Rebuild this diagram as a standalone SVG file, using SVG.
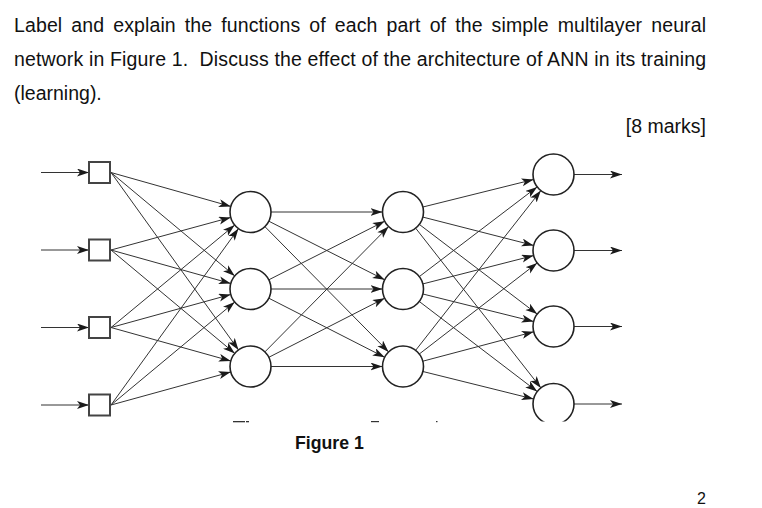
<svg xmlns="http://www.w3.org/2000/svg" width="762" height="508" viewBox="0 0 762 508">
<style>
.t{font-family:"Liberation Sans",Arial,sans-serif;font-size:19.5px;fill:#111}
.b{font-family:"Liberation Sans",Arial,sans-serif;font-size:17.7px;font-weight:bold;fill:#111}
.c line{stroke:#333;stroke-width:1;marker-end:url(#ah)}
.n circle{fill:#fff;stroke:#222;stroke-width:1.6}
.n rect{fill:#fff;stroke:#444;stroke-width:2}
</style>
<defs>
<marker id="ah" markerUnits="userSpaceOnUse" markerWidth="14" markerHeight="10" refX="12" refY="4" orient="auto" viewBox="0 0 14 10">
<path d="M0,0 L12,4 L0,8 L3,4 z" fill="#1a1a1a"/>
</marker>
<clipPath id="clip"><rect x="0" y="0" width="762" height="421.5"/></clipPath>
</defs>
<rect width="762" height="508" fill="#fff"/>
<g id="question">
<text class="t" x="14" y="31.5" word-spacing="3.5" textLength="692">Label and explain the functions of each part of the simple multilayer neural</text>
<text class="t" x="14" y="65.5" textLength="692" xml:space="preserve">network in Figure 1.  Discuss the effect of the architecture of ANN in its training</text>
<text class="t" x="14" y="99.5">(learning).</text>
<text class="t" x="706" y="133" text-anchor="end">[8 marks]</text>
</g>
<g id="figure" clip-path="url(#clip)">
<g id="connectors" class="c">
<line x1="41" y1="172.5" x2="89" y2="172.5"/>
<line x1="41" y1="250" x2="89" y2="250"/>
<line x1="41" y1="327.5" x2="89" y2="327.5"/>
<line x1="41" y1="405" x2="89" y2="405"/>
<line x1="111" y1="172.5" x2="230.8" y2="206.4"/>
<line x1="111" y1="172.5" x2="234.8" y2="275.9"/>
<line x1="111" y1="172.5" x2="238.5" y2="349.9"/>
<line x1="111" y1="250" x2="230.7" y2="217.4"/>
<line x1="111" y1="250" x2="230.8" y2="283.5"/>
<line x1="111" y1="250" x2="234.8" y2="353.4"/>
<line x1="111" y1="327.5" x2="234.7" y2="225.1"/>
<line x1="111" y1="327.5" x2="230.7" y2="294.5"/>
<line x1="111" y1="327.5" x2="230.8" y2="361"/>
<line x1="111" y1="405" x2="238.5" y2="228.6"/>
<line x1="111" y1="405" x2="234.7" y2="302.1"/>
<line x1="111" y1="405" x2="230.7" y2="372"/>
<line x1="271" y1="212" x2="382.5" y2="212"/>
<line x1="268.8" y1="221.2" x2="384.7" y2="279.8"/>
<line x1="264.9" y1="226.6" x2="388.6" y2="351.9"/>
<line x1="268.8" y1="279.8" x2="384.7" y2="221.2"/>
<line x1="271" y1="289" x2="382.5" y2="289"/>
<line x1="268.8" y1="298.2" x2="384.7" y2="357.3"/>
<line x1="264.9" y1="351.9" x2="388.6" y2="226.6"/>
<line x1="268.8" y1="357.3" x2="384.7" y2="298.2"/>
<line x1="271" y1="366.5" x2="382.5" y2="366.5"/>
<line x1="422.9" y1="207" x2="533.6" y2="179.5"/>
<line x1="422.9" y1="217.1" x2="533.6" y2="245.4"/>
<line x1="419.3" y1="224.4" x2="537.2" y2="314.1"/>
<line x1="415.6" y1="228.1" x2="540.9" y2="387.9"/>
<line x1="419.3" y1="276.6" x2="537.2" y2="186.9"/>
<line x1="422.9" y1="283.9" x2="533.6" y2="255.6"/>
<line x1="422.9" y1="294" x2="533.6" y2="321.5"/>
<line x1="419.3" y1="301.5" x2="537.2" y2="391.5"/>
<line x1="415.6" y1="350.4" x2="540.9" y2="190.6"/>
<line x1="419.3" y1="354" x2="537.2" y2="263"/>
<line x1="422.8" y1="361.2" x2="533.7" y2="331.8"/>
<line x1="422.9" y1="371.5" x2="533.6" y2="399"/>
<line x1="574" y1="174.5" x2="622" y2="174.5"/>
<line x1="574" y1="250.5" x2="622" y2="250.5"/>
<line x1="574" y1="326.5" x2="622" y2="326.5"/>
<line x1="574" y1="404" x2="622" y2="404"/>
</g>
<g id="in1" class="n"><rect x="89" y="162" width="21" height="21"/></g>
<g id="in2" class="n"><rect x="89" y="239.5" width="21" height="21"/></g>
<g id="in3" class="n"><rect x="89" y="317" width="21" height="21"/></g>
<g id="in4" class="n"><rect x="89" y="394.5" width="21" height="21"/></g>
<g id="h1" class="n"><circle cx="250.5" cy="212" r="20.5"/></g>
<g id="h2" class="n"><circle cx="250.5" cy="289" r="20.5"/></g>
<g id="h3" class="n"><circle cx="250.5" cy="366.5" r="20.5"/></g>
<g id="g1" class="n"><circle cx="403" cy="212" r="20.5"/></g>
<g id="g2" class="n"><circle cx="403" cy="289" r="20.5"/></g>
<g id="g3" class="n"><circle cx="403" cy="366.5" r="20.5"/></g>
<g id="o1" class="n"><circle cx="553.5" cy="174.5" r="20.5"/></g>
<g id="o2" class="n"><circle cx="553.5" cy="250.5" r="20.5"/></g>
<g id="o3" class="n"><circle cx="553.5" cy="326.5" r="20.5"/></g>
<g id="o4" class="n"><circle cx="553.5" cy="404" r="20.5"/></g>
</g>
<g id="remnants" fill="#333">
<rect x="233" y="421" width="12" height="1.3"/>
<rect x="246" y="421" width="3" height="1.3"/>
<rect x="371" y="421" width="8" height="1.2"/>
<rect x="436" y="421" width="1.5" height="1.2"/>
</g>
<g id="caption">
<text class="b" x="295" y="449">Figure 1</text>
<text class="t" x="697" y="504" style="font-size:16px">2</text>
</g>
</svg>
